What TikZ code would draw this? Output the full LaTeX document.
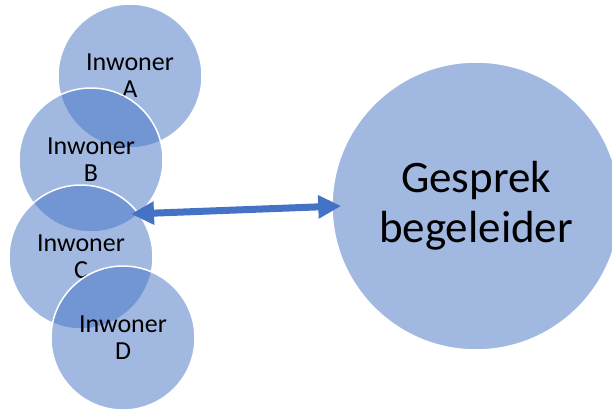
\documentclass[tikz,border=0pt]{standalone}
\usepackage{fontspec}
\setmainfont{Carlito}
\usetikzlibrary{arrows.meta}
\definecolor{wordblue}{HTML}{4472C4}
\begin{document}
\begin{tikzpicture}[x=1pt,y=-1pt,
  person/.style={circle,minimum size=144pt,inner sep=0pt,fill=wordblue,fill opacity=0.5,text opacity=1,
    draw=white,line width=1.5pt,align=center,font=\fontsize{26}{27}\selectfont},
  guide/.style={person,minimum size=288pt,font=\fontsize{45}{50}\selectfont},
  link/.style={wordblue,line width=7pt,{Triangle[length=23pt,width=22pt]}-{Triangle[length=23pt,width=22pt]}}]
\useasboundingbox (0,0) rectangle (612,412);
\node[person] (A) at (130,76) {Inwoner\\A};
\node[person] (B) at (91,160) {Inwoner\\B};
\node[person] (C) at (81,257) {Inwoner\\C};
\node[person] (D) at (123,338) {Inwoner\\D};
\node[guide] (G) at (476,206) {Gesprek\\begeleider};
\coordinate (cTip) at (131,214);
\draw[link] (cTip) -- ([xshift=10pt]G.west);
\end{tikzpicture}
\end{document}
